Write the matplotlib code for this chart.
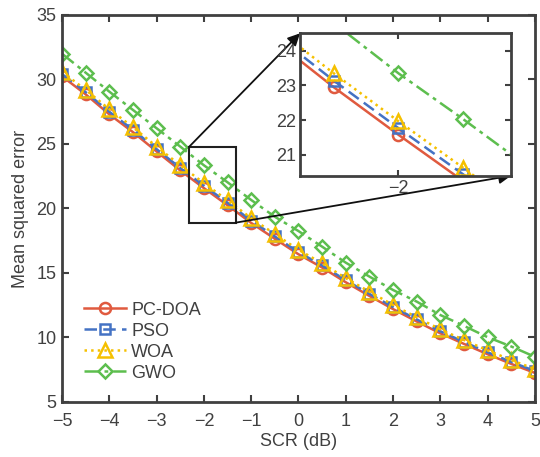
import matplotlib
matplotlib.use("Agg")
import matplotlib.pyplot as plt
import numpy as np

plt.rcParams['font.family'] = ['Liberation Sans', 'DejaVu Sans']

scr = [-5, -4.5, -4, -3.5, -3, -2.5, -2, -1.5, -1, -0.5, 0, 0.5, 1, 1.5, 2, 2.5, 3, 3.5, 4, 4.5, 5]
pcdoa = [30.25, 28.85, 27.3, 25.92, 24.42, 22.95, 21.58, 20.25, 18.88, 17.65, 16.45, 15.42, 14.28, 13.22, 12.2, 11.24, 10.32, 9.5, 8.7, 7.95, 7.25]
pso = [30.42, 29.02, 27.5, 26.1, 24.6, 23.14, 21.77, 20.44, 19.06, 17.83, 16.62, 15.58, 14.44, 13.38, 12.36, 11.4, 10.48, 9.65, 8.85, 8.1, 7.4]
woa = [30.6, 29.2, 27.7, 26.3, 24.8, 23.35, 21.97, 20.63, 19.25, 18.02, 16.8, 15.75, 14.6, 13.55, 12.52, 11.56, 10.63, 9.8, 9.0, 8.25, 7.55]
gwo = [32.0, 30.53, 29.06, 27.64, 26.22, 24.8, 23.35, 22.03, 20.66, 19.36, 18.25, 17.04, 15.8, 14.72, 13.68, 12.78, 11.74, 10.9, 10.02, 9.3, 8.5]

names = ['PC-DOA', 'PSO', 'WOA', 'GWO']
xticks = [-5, -4, -3, -2, -1, 0, 1, 2, 3, 4, 5]
yticks = [5, 10, 15, 20, 25, 30, 35]

series = [pcdoa, pso, woa, gwo]
colors = ['#E05A3F', '#4472C4', '#F5C000', '#5DBE4E']
styles = ['-', (0, (5, 2.5)), ':', (0, (6, 2, 1.5, 2))]
markers = ['o', 's', '^', 'D']
msizes = [8, 6.5, 9.5, 7]

txt = '#404040'
fig = plt.figure(figsize=(5.4, 4.57), dpi=100)
ax = fig.add_axes([0.1148, 0.1204, 0.8759, 0.8468])

for y, c, ls, m, ms, n in zip(series, colors, styles, markers, msizes, names):
    ax.plot(scr, y, color=c, linestyle=ls, linewidth=1.8, marker=m, markersize=ms,
            markerfacecolor='none', markeredgewidth=1.8, label=n)

ax.set_xlim(-5, 5)
ax.set_ylim(5, 35)
ax.set_xticks(xticks)
ax.set_yticks(yticks)
ax.tick_params(direction='in', length=5, width=1.5, top=True, right=True,
               labelsize=13, colors=txt, pad=4)
ax.tick_params(axis='x', pad=8)
for s in ax.spines.values():
    s.set_linewidth(2)
    s.set_color(txt)
ax.set_xlabel('SCR (dB)', fontsize=13, color=txt, labelpad=2)
ax.set_ylabel('Mean squared error', fontsize=13, color=txt, labelpad=5)

leg = ax.legend(loc='lower left', bbox_to_anchor=(0.02, 0.02), frameon=False, fontsize=13,
                handlelength=2.3, handletextpad=0.3, labelspacing=0.22, borderaxespad=0.3)
for t in leg.get_texts():
    t.set_color(txt)

# zoom rectangle
rx0, rx1, ry0, ry1 = -2.31, -1.33, 18.9, 24.79
ax.add_patch(plt.Rectangle((rx0, ry0), rx1 - rx0, ry1 - ry0, fill=False,
                           edgecolor='#202020', linewidth=1.5, zorder=5))

axins = fig.add_axes([0.5556, 0.6155, 0.3907, 0.3116])
for y, c, ls, m, ms, n in zip(series, colors, styles, markers, msizes, names):
    axins.plot(scr, y, color=c, linestyle=ls, linewidth=1.8, marker=m, markersize=ms,
               markerfacecolor='none', markeredgewidth=1.8)
axins.set_xlim(-2.76, -1.13)
axins.set_ylim(20.4, 24.5)
axins.set_xticks([-2])
axins.set_yticks([21, 22, 23, 24])
axins.tick_params(direction='in', length=4, width=1.5, top=True, right=True,
                  labelsize=13, colors=txt, pad=3)
for s in axins.spines.values():
    s.set_linewidth(2)
    s.set_color(txt)

ax.annotate('', xy=(0, 1), xycoords=axins.transAxes, xytext=(rx0, ry1), textcoords='data',
            arrowprops=dict(arrowstyle='-|>', color='#101010', lw=1.3, mutation_scale=18,
                            shrinkA=0, shrinkB=0), zorder=6)
ax.annotate('', xy=(1, 0), xycoords=axins.transAxes, xytext=(rx1, ry0), textcoords='data',
            arrowprops=dict(arrowstyle='-|>', color='#101010', lw=1.3, mutation_scale=18,
                            shrinkA=0, shrinkB=0), zorder=6)

fig.savefig('out.png', dpi=100)
